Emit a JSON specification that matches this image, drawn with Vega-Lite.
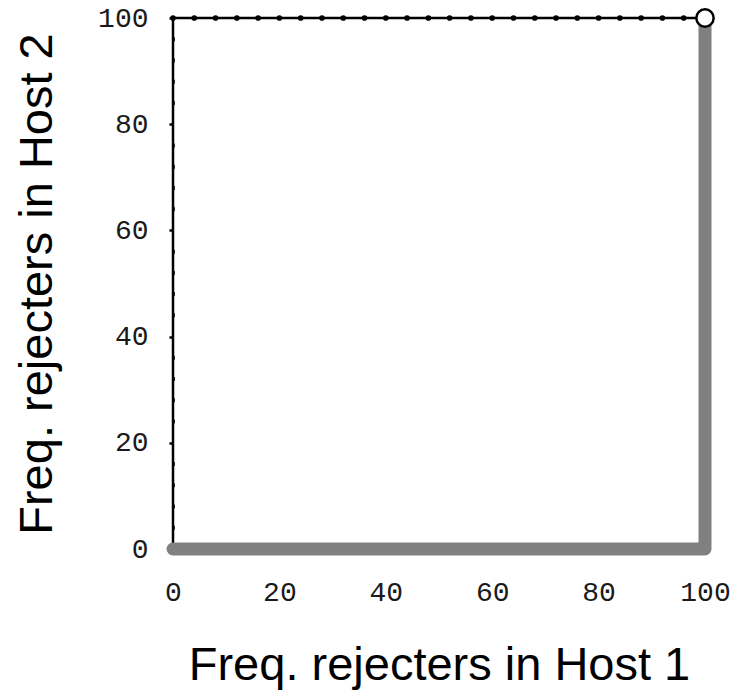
{
  "$schema": "https://vega.github.io/schema/vega-lite/v6.json",
  "autosize": "none",
  "width": 532,
  "height": 531,
  "padding": {"left": 173, "top": 18, "right": 28, "bottom": 144},
  "background": "white",
  "config": {
    "view": {"stroke": null},
    "axis": {"grid": false, "domain": false}
  },
  "datasets": {
    "gray": [
      {"x": 0, "y": 0, "o": 1},
      {"x": 100, "y": 0, "o": 2},
      {"x": 100, "y": 100, "o": 3}
    ],
    "black": [
      {"x": 0, "y": 0, "o": 1},
      {"x": 0, "y": 100, "o": 2},
      {"x": 100, "y": 100, "o": 3}
    ],
    "topdots": [
      {"x": 0, "y": 100}, {"x": 4, "y": 100}, {"x": 8, "y": 100}, {"x": 12, "y": 100},
      {"x": 16, "y": 100}, {"x": 20, "y": 100}, {"x": 24, "y": 100}, {"x": 28, "y": 100},
      {"x": 32, "y": 100}, {"x": 36, "y": 100}, {"x": 40, "y": 100}, {"x": 44, "y": 100},
      {"x": 48, "y": 100}, {"x": 52, "y": 100}, {"x": 56, "y": 100}, {"x": 60, "y": 100},
      {"x": 64, "y": 100}, {"x": 68, "y": 100}, {"x": 72, "y": 100}, {"x": 76, "y": 100},
      {"x": 80, "y": 100}, {"x": 84, "y": 100}, {"x": 88, "y": 100}, {"x": 92, "y": 100},
      {"x": 96, "y": 100}
    ],
    "leftdots": [
      {"x": 0, "y": 4}, {"x": 0, "y": 8}, {"x": 0, "y": 12}, {"x": 0, "y": 16},
      {"x": 0, "y": 24}, {"x": 0, "y": 28}, {"x": 0, "y": 32}, {"x": 0, "y": 36},
      {"x": 0, "y": 44}, {"x": 0, "y": 48}, {"x": 0, "y": 52}, {"x": 0, "y": 56},
      {"x": 0, "y": 64}, {"x": 0, "y": 68}, {"x": 0, "y": 72}, {"x": 0, "y": 76},
      {"x": 0, "y": 84}, {"x": 0, "y": 88}, {"x": 0, "y": 92}, {"x": 0, "y": 96}
    ],
    "end": [
      {"x": 100, "y": 100}
    ]
  },
  "encoding": {
    "x": {
      "field": "x", "type": "quantitative",
      "scale": {"domain": [0, 100], "nice": false, "zero": false},
      "axis": {
        "values": [0, 20, 40, 60, 80, 100],
        "ticks": false,
        "labelPadding": 29,
        "labelFont": "Liberation Mono",
        "labelFontSize": 28,
        "labelColor": "#1a1a1a",
        "labelFlush": false,
        "title": "Freq. rejecters in Host 1",
        "titleFont": "Liberation Sans",
        "titleFontSize": 47,
        "titleFontWeight": "normal",
        "titleColor": "black",
        "titlePadding": 36
      }
    },
    "y": {
      "field": "y", "type": "quantitative",
      "scale": {"domain": [0, 100], "nice": false, "zero": false},
      "axis": {
        "values": [0, 20, 40, 60, 80, 100],
        "ticks": true,
        "tickSize": 4,
        "tickWidth": 2.5,
        "tickColor": "black",
        "labelPadding": 21,
        "labelFont": "Liberation Mono",
        "labelFontSize": 28,
        "labelColor": "#1a1a1a",
        "labelFlush": false,
        "title": "Freq. rejecters in Host 2",
        "titleFont": "Liberation Sans",
        "titleFontSize": 47,
        "titleFontWeight": "normal",
        "titleColor": "black",
        "titlePadding": 36
      }
    }
  },
  "layer": [
    {
      "data": {"name": "black"},
      "mark": {"type": "line", "color": "black", "strokeWidth": 2.5},
      "encoding": {"order": {"field": "o", "type": "quantitative"}}
    },
    {
      "data": {"name": "topdots"},
      "mark": {"type": "point", "filled": true, "color": "black", "size": 32, "opacity": 1}
    },
    {
      "data": {"name": "leftdots"},
      "mark": {"type": "point", "filled": true, "color": "black", "size": 16, "opacity": 1, "shape": "M0.6,-1L1,-1L1,1L0.6,1Z"}
    },
    {
      "data": {"name": "gray"},
      "mark": {"type": "line", "color": "#808080", "strokeWidth": 13, "strokeCap": "round", "strokeJoin": "round"},
      "encoding": {"order": {"field": "o", "type": "quantitative"}}
    },
    {
      "data": {"name": "end"},
      "mark": {"type": "point", "filled": true, "fill": "white", "stroke": "black", "strokeWidth": 2.5, "size": 300, "opacity": 1}
    }
  ]
}
